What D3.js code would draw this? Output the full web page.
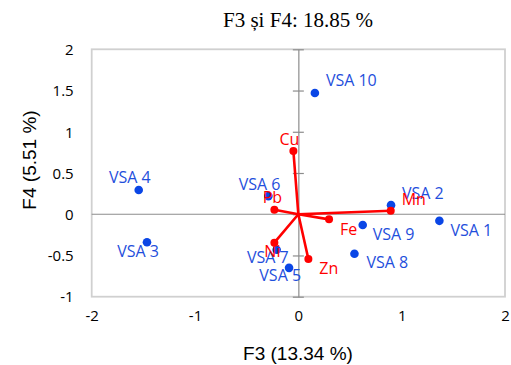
<!DOCTYPE html>
<html>
<head>
<meta charset="utf-8">
<script src="https://cdn.jsdelivr.net/npm/d3@7"></script>
<style>
  html, body { margin: 0; padding: 0; background: #fff; }
  svg { display: block; }
</style>
</head>
<body>
<svg id="chart" width="511" height="365"></svg>
<script>
// Observations (sample scores on F3/F4)
const obsNames = ["VSA 1", "VSA 2", "VSA 3", "VSA 4", "VSA 5", "VSA 6", "VSA 7", "VSA 8", "VSA 9", "VSA 10"];
const obsF3 = [1.365, 0.897, -1.465, -1.545, -0.09, -0.29, -0.21, 0.543, 0.623, 0.16];
const obsF4 = [-0.08, 0.11, -0.34, 0.294, -0.65, 0.22, -0.43, -0.48, -0.13, 1.47];

// Variables (loadings on F3/F4)
const varNames = ["Cu", "Pb", "Ni", "Mn", "Fe", "Zn"];
const varF3 = [-0.048, -0.232, -0.232, 0.894, 0.297, 0.097];
const varF4 = [0.766, 0.055, -0.345, 0.042, -0.062, -0.543];

// Axis ticks
const xTicks = [-2, -1, 0, 1, 2];
const yTicks = [-1, -0.5, 0, 0.5, 1, 1.5, 2];

// Label placement (pixel offsets from the marker; anchor)
const obsLabelPos = [
  [11, 10, "start"], [11, -12, "start"], [12, 9, "end"], [12, -13, "end"], [12, 8, "end"],
  [12, -12, "end"], [12, 8, "end"], [12, 9, "start"], [10, 9, "start"], [11, -13, "start"]
];
const varLabelPos = [
  [-4, -12, "middle"], [-2, -12, "middle"], [-2, 9, "middle"],
  [11, -11, "start"], [11, 10, "start"], [11, 9, "start"]
];

const svg = d3.select("#chart");
const plot = { left: 91.7, right: 505, top: 49.3, bottom: 296.7 };

const x = d3.scaleLinear().domain([-2, 2]).range([plot.left, plot.right]);
const y = d3.scaleLinear().domain([-1, 2]).range([plot.bottom, plot.top]);

const blue = "#0a46e6";
const blueText = "#1f4fdc";
const red = "#ff0000";

// Title
svg.append("text")
  .attr("x", 298).attr("y", 26.5)
  .attr("text-anchor", "middle")
  .style("font-family", "'Liberation Serif', 'Times New Roman', serif")
  .style("font-size", "21px")
  .attr("fill", "#000")
  .text("F3 și F4: 18.85 %");

// Plot frame
svg.append("rect")
  .attr("x", plot.left).attr("y", plot.top)
  .attr("width", plot.right - plot.left).attr("height", plot.bottom - plot.top)
  .attr("fill", "none").attr("stroke", "#d0d0d0").attr("stroke-width", 1.8);

// Horizontal axis line at F4 = 0
svg.append("line")
  .attr("x1", plot.left).attr("x2", plot.right)
  .attr("y1", y(0)).attr("y2", y(0))
  .attr("stroke", "#8c8c8c").attr("stroke-width", 1.2);

// Vertical axis at F3 = 0 with cross ticks
const yAxis = d3.axisLeft(y).tickValues(yTicks).tickSize(0).tickFormat("");
const yAxisG = svg.append("g").attr("transform", `translate(${x(0)},0)`).call(yAxis);
yAxisG.select(".domain").attr("stroke", "#8c8c8c").attr("stroke-width", 1.2);
yAxisG.selectAll(".tick").append("line")
  .attr("x1", -5.5).attr("x2", 5.5)
  .attr("stroke", "#8c8c8c").attr("stroke-width", 1.2);

// Y tick labels at the left of the frame
const yLab = d3.axisLeft(y).tickValues(yTicks).tickSize(0).tickPadding(0)
  .tickFormat(d => String(d));
const yLabG = svg.append("g").attr("transform", `translate(${plot.left - 18},0)`).call(yLab);
yLabG.select(".domain").remove();
yLabG.selectAll("text")
  .style("font-family", "'Open Sans', sans-serif").style("font-size", "15px")
  .attr("fill", "#000").attr("dy", "0.35em");

// X tick labels below the frame
const xLab = d3.axisBottom(x).tickValues(xTicks).tickSize(0).tickPadding(0)
  .tickFormat(d => String(d));
const xLabG = svg.append("g").attr("transform", `translate(0,${plot.bottom + 19})`).call(xLab);
xLabG.select(".domain").remove();
xLabG.selectAll("text")
  .style("font-family", "'Open Sans', sans-serif").style("font-size", "15px")
  .attr("fill", "#000").attr("dy", "0.35em");

// Axis titles
svg.append("text")
  .attr("x", 298).attr("y", 360)
  .attr("text-anchor", "middle")
  .style("font-family", "'Liberation Sans', Arial, sans-serif")
  .style("font-size", "19px")
  .attr("fill", "#000")
  .text("F3 (13.34 %)");

svg.append("text")
  .attr("transform", "translate(36,160) rotate(-90)")
  .attr("text-anchor", "middle")
  .style("font-family", "'Liberation Sans', Arial, sans-serif")
  .style("font-size", "19px")
  .attr("fill", "#000")
  .text("F4 (5.51 %)");

// Observations
const obs = obsNames.map((n, i) => ({ name: n, f3: obsF3[i], f4: obsF4[i], pos: obsLabelPos[i] }));
const vars = varNames.map((n, i) => ({ name: n, f3: varF3[i], f4: varF4[i], pos: varLabelPos[i] }));

svg.append("g").selectAll("circle").data(obs).join("circle")
  .attr("cx", d => x(d.f3)).attr("cy", d => y(d.f4)).attr("r", 4.3)
  .attr("fill", blue);

svg.append("g").selectAll("text").data(obs).join("text")
  .attr("x", d => x(d.f3) + d.pos[0]).attr("y", d => y(d.f4) + d.pos[1])
  .attr("dy", "0.35em")
  .attr("text-anchor", d => d.pos[2])
  .style("font-family", "'Open Sans', sans-serif").style("font-size", "16px")
  .attr("fill", blueText)
  .text(d => d.name);

// Variable vectors
svg.append("g").selectAll("line").data(vars).join("line")
  .attr("x1", x(0)).attr("y1", y(0))
  .attr("x2", d => x(d.f3)).attr("y2", d => y(d.f4))
  .attr("stroke", red).attr("stroke-width", 2.6).attr("stroke-linecap", "round");

svg.append("g").selectAll("circle").data(vars).join("circle")
  .attr("cx", d => x(d.f3)).attr("cy", d => y(d.f4)).attr("r", 4)
  .attr("fill", red);

svg.append("g").selectAll("text").data(vars).join("text")
  .attr("x", d => x(d.f3) + d.pos[0]).attr("y", d => y(d.f4) + d.pos[1])
  .attr("dy", "0.35em")
  .attr("text-anchor", d => d.pos[2])
  .style("font-family", "'Open Sans', sans-serif").style("font-size", "16px")
  .attr("fill", red)
  .text(d => d.name);
</script>
</body>
</html>
